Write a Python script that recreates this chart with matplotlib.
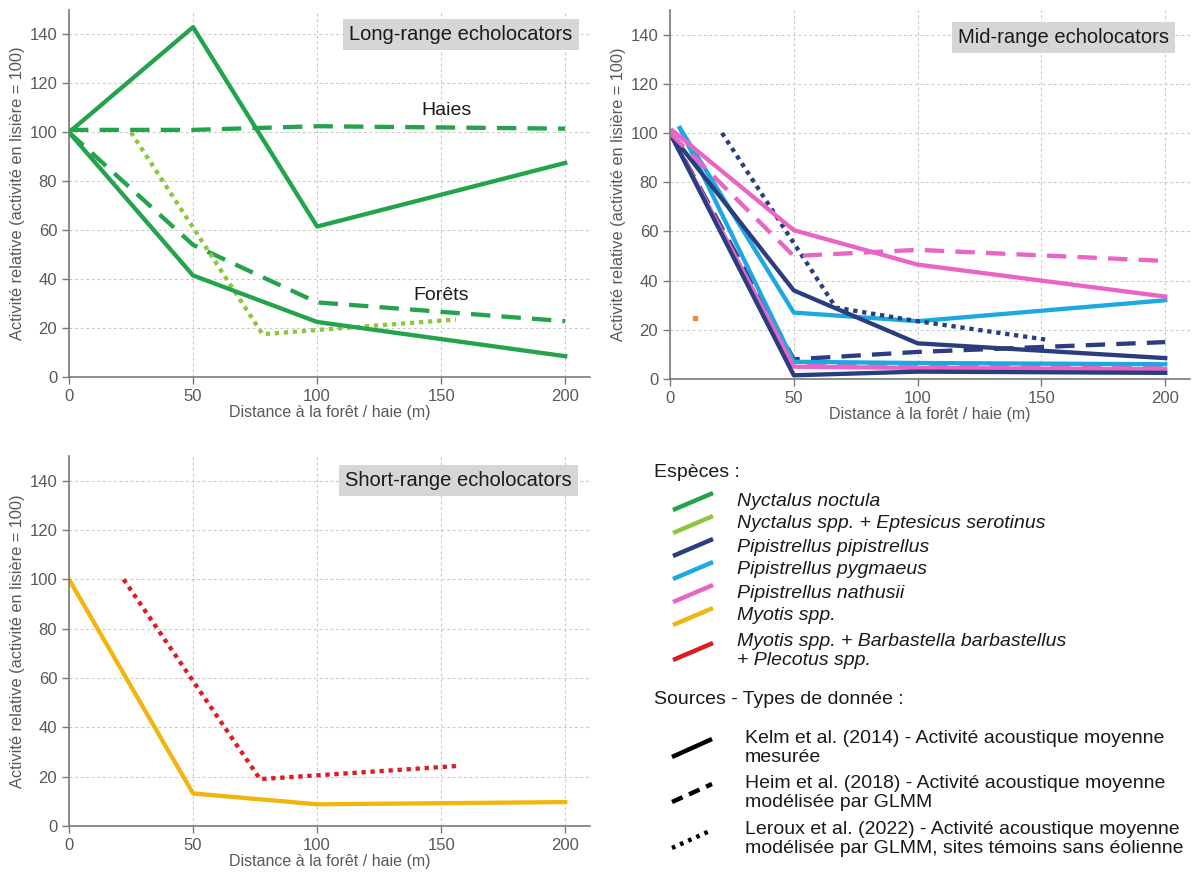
import matplotlib
matplotlib.use('Agg')
import matplotlib.pyplot as plt
from matplotlib.lines import Line2D

plt.rcParams['font.family'] = ['Liberation Sans', 'DejaVu Sans']

# ---------------- colours ----------------
C_NOCTULA = '#23a34b'
C_NYCT_EPT = '#8dc63f'
C_PIPI = '#2a3d7e'
C_PYG = '#1ea8e0'
C_NATH = '#e964c4'
C_MYO = '#f2b40f'
C_RED = '#e01a22'

# ---------------- data ----------------
x_std = [0, 50, 100, 200]

# Long-range echolocators
lr_kelm_haies = [100, 143, 61.5, 87.5]
lr_kelm_forets = [100, 41.5, 22.5, 8.5]
lr_heim_haies = [101, 101, 102.5, 101.5]
lr_heim_forets = [100, 54, 30.5, 22.8]
lr_leroux_x = [25, 78, 156]
lr_leroux_y = [100, 17.5, 23.5]

# Mid-range echolocators
mr_nath_kelm_hi_x = [1, 50, 100, 200]
mr_nath_kelm_hi = [101, 60.5, 46.5, 33.5]
mr_nath_heim_hi = [100, 50, 52.5, 48]
mr_nath_heim_lo = [100, 6, 5, 5]
mr_nath_kelm_lo = [100, 5, 4.5, 4]
mr_pyg_x = [4, 50, 100, 200]
mr_pyg_kelm_hi = [102, 27, 23.5, 32]
mr_pyg_kelm_lo = [102, 7, 6.5, 6]
mr_pipi_kelm_hi = [100, 36, 14.5, 8.5]
mr_pipi_kelm_lo = [100, 1.5, 3, 2.5]
mr_pipi_heim = [100, 8, 11, 15]
mr_pipi_leroux_x = [21, 67, 100, 152]
mr_pipi_leroux_y = [100, 29, 23.5, 16]
mr_orange_pt = (10, 25)

# Short-range echolocators
sr_myo_kelm = [100, 13.2, 8.8, 9.7]
sr_red_leroux_x = [22, 77, 156]
sr_red_leroux_y = [100, 19, 24.3]

x_ticks = [0, 50, 100, 150, 200]
y_ticks = [0, 20, 40, 60, 80, 100, 120, 140]

species_labels = ['Nyctalus noctula', 'Nyctalus spp. + Eptesicus serotinus',
                  'Pipistrellus pipistrellus', 'Pipistrellus pygmaeus',
                  'Pipistrellus nathusii', 'Myotis spp.',
                  'Myotis spp. + Barbastella barbastellus\n+ Plecotus spp.']
species_colors = [C_NOCTULA, C_NYCT_EPT, C_PIPI, C_PYG, C_NATH, C_MYO, C_RED]
source_labels = ['Kelm et al. (2014) - Activité acoustique moyenne\nmesurée',
                 'Heim et al. (2018) - Activité acoustique moyenne\nmodélisée par GLMM',
                 'Leroux et al. (2022) - Activité acoustique moyenne\nmodélisée par GLMM, sites témoins sans éolienne']

LW = 3.1
SOLID = '-'
DASH = (0, (4.5, 2.6))
DOT = (0, (1, 1.1))

W, H = 1201, 874
fig = plt.figure(figsize=(W / 100, H / 100), dpi=100)


def px_axes(left, right, top, bottom):
    return fig.add_axes([left / W, 1 - bottom / H, (right - left) / W, (bottom - top) / H])


def style(ax, title, tx, ty):
    ax.set_xlim(0, 210)
    ax.set_ylim(0, 150)
    ax.set_xticks(x_ticks)
    ax.set_yticks(y_ticks)
    for s in ['top', 'right']:
        ax.spines[s].set_visible(False)
    for s in ['left', 'bottom']:
        ax.spines[s].set_color('#7a7a7a')
        ax.spines[s].set_linewidth(1.2)
    ax.tick_params(colors='#7a7a7a', labelcolor='#595959', labelsize=12, length=5, width=1)
    ax.grid(True, color='#c9c9c9', linestyle=(0, (2.5, 2.5)), linewidth=0.8)
    ax.set_axisbelow(True)
    ax.set_xlabel('Distance à la forêt / haie (m)', fontsize=11.5, color='#595959', labelpad=1)
    ax.set_ylabel('Activité relative (activité en lisière = 100)', fontsize=11.8, color='#595959', labelpad=3)
    ax.text(tx, ty, title, ha='center', va='center', fontsize=14.5, color='#1a1a1a',
            bbox=dict(boxstyle='square,pad=0.3', fc='#d6d6d6', ec='none'), zorder=5)


# ---------- Long-range ----------
ax1 = px_axes(69, 590, 10, 377)
style(ax1, 'Long-range echolocators', 158, 140)
ax1.plot(x_std, lr_heim_haies, color=C_NOCTULA, lw=LW, ls=DASH)
ax1.plot(x_std, lr_heim_forets, color=C_NOCTULA, lw=LW, ls=DASH)
ax1.plot(lr_leroux_x, lr_leroux_y, color=C_NYCT_EPT, lw=LW, ls=DOT)
ax1.plot(x_std, lr_kelm_haies, color=C_NOCTULA, lw=LW, ls=SOLID)
ax1.plot(x_std, lr_kelm_forets, color=C_NOCTULA, lw=LW, ls=SOLID)
ax1.text(152, 109, 'Haies', fontsize=14, ha='center', va='center', color='#1a1a1a')
ax1.text(150, 33.5, 'Forêts', fontsize=14, ha='center', va='center', color='#1a1a1a')

# ---------- Mid-range ----------
ax2 = px_axes(670, 1190, 10, 379)
style(ax2, 'Mid-range echolocators', 159, 139)
ax2.plot(x_std, mr_nath_heim_lo, color=C_NATH, lw=LW, ls=DASH)
ax2.plot(x_std, mr_pipi_heim, color=C_PIPI, lw=LW, ls=DASH)
ax2.plot(mr_pyg_x, mr_pyg_kelm_lo, color=C_PYG, lw=LW, ls=SOLID)
ax2.plot(x_std, mr_nath_kelm_lo, color=C_NATH, lw=LW, ls=SOLID)
ax2.plot(x_std, mr_pipi_kelm_lo, color=C_PIPI, lw=LW, ls=SOLID)
ax2.plot(mr_pyg_x, mr_pyg_kelm_hi, color=C_PYG, lw=LW, ls=SOLID)
ax2.plot(x_std, mr_pipi_kelm_hi, color=C_PIPI, lw=LW, ls=SOLID)
ax2.plot(mr_pipi_leroux_x, mr_pipi_leroux_y, color=C_PIPI, lw=LW, ls=DOT)
ax2.plot(x_std, mr_nath_heim_hi, color=C_NATH, lw=LW, ls=DASH)
ax2.plot(mr_nath_kelm_hi_x, mr_nath_kelm_hi, color=C_NATH, lw=LW, ls=SOLID)
ax2.plot([mr_orange_pt[0]], [mr_orange_pt[1]], marker='s', ms=3, color='#f08a3c', ls='none')

# ---------- Short-range ----------
ax3 = px_axes(69, 590, 456, 826)
style(ax3, 'Short-range echolocators', 157, 140)
ax3.plot(x_std, sr_myo_kelm, color=C_MYO, lw=LW, ls=SOLID)
ax3.plot(sr_red_leroux_x, sr_red_leroux_y, color=C_RED, lw=LW, ls=DOT)

# ---------- Legend ----------
def fx(x):
    return x / W


def fy(y):
    return 1 - y / H


TXT = 14
fig.text(fx(654), fy(472), 'Espèces :', fontsize=TXT, va='center', ha='left', color='#1a1a1a')
sp_y = [501, 524, 547, 570, 593, 616, 651]
for lab, col, yy in zip(species_labels, species_colors, sp_y):
    fig.add_artist(Line2D([fx(673), fx(713)], [fy(yy + 9), fy(yy - 8)], color=col, lw=3.2,
                          solid_capstyle='butt'))
    fig.text(fx(737), fy(yy), lab, fontsize=TXT, style='italic', va='center', ha='left',
             color='#1a1a1a', linespacing=1.22)

fig.text(fx(654), fy(699), 'Sources - Types de donnée :', fontsize=TXT, va='center', ha='left', color='#1a1a1a')
src_y = [748, 793, 839]
src_ls = [SOLID, (0, (2.6, 1.6)), (0, (0.8, 1.2))]
for lab, ls, yy in zip(source_labels, src_ls, src_y):
    fig.add_artist(Line2D([fx(672), fx(712)], [fy(yy + 9), fy(yy - 9)], color='black', lw=3.2,
                          ls=ls, solid_capstyle='butt'))
    fig.text(fx(745), fy(yy), lab, fontsize=TXT, va='center', ha='left', color='#1a1a1a',
             linespacing=1.22)

fig.savefig('out.png', dpi=100, facecolor='white')
